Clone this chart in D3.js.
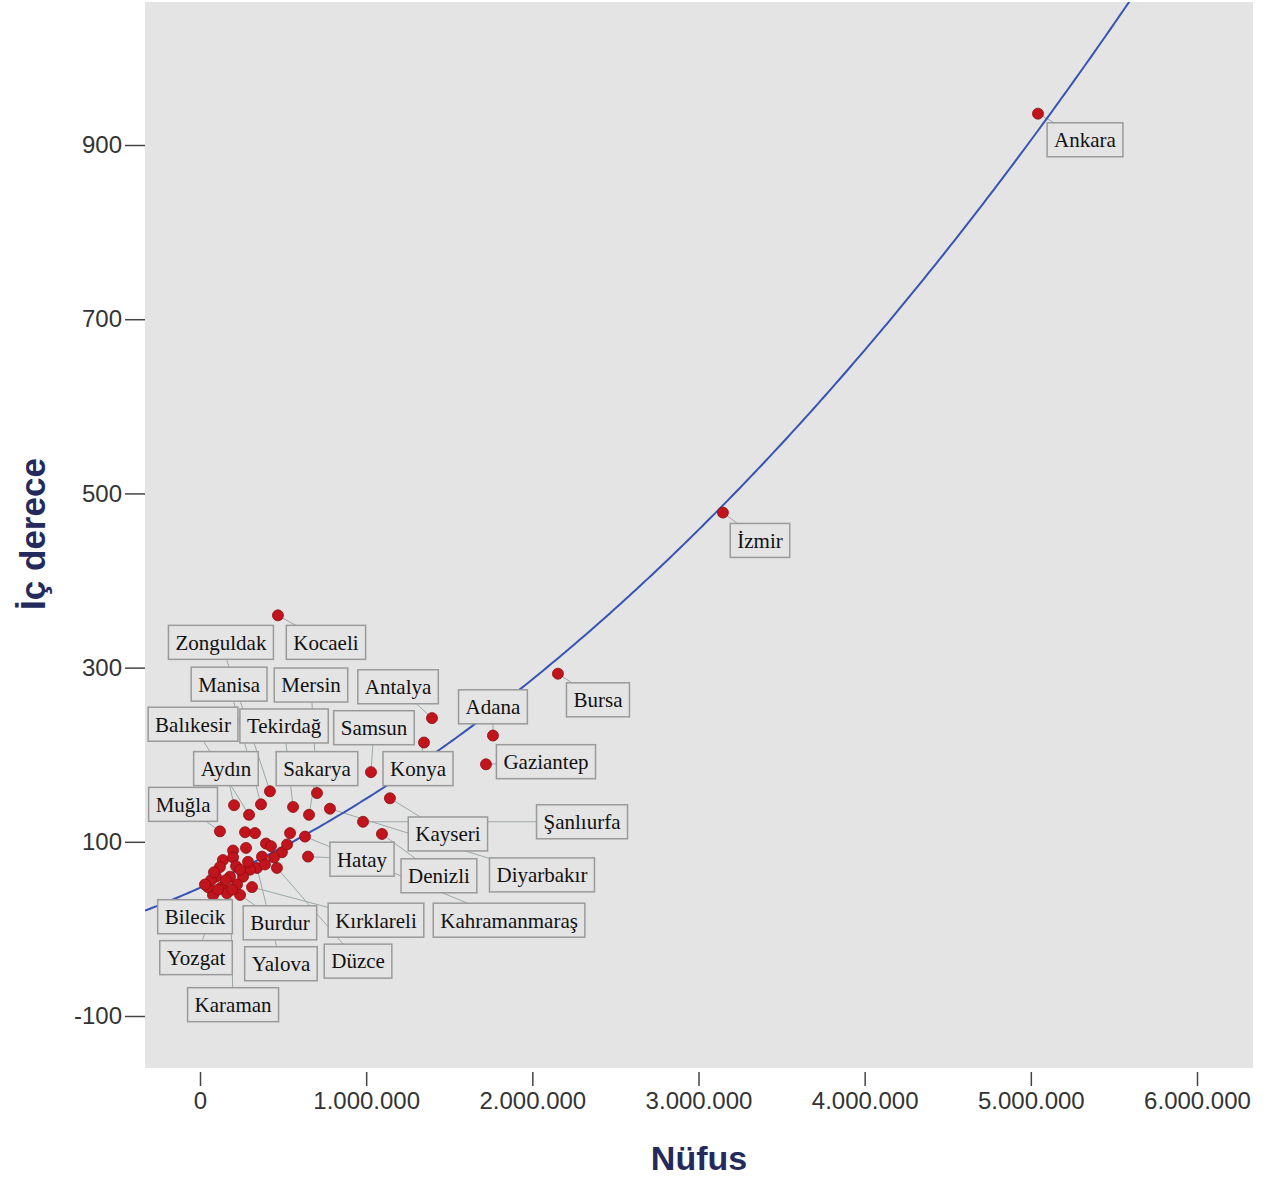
<!DOCTYPE html>
<html><head><meta charset="utf-8">
<script src="https://cdn.jsdelivr.net/npm/d3@7"></script>
<style>body{margin:0;background:#fff} svg{display:block}</style>
</head><body><svg id="c" width="1265" height="1178"></svg>
<script>
// ---- data ----
const iller = ["Ankara","İzmir","Bursa","Adana","Gaziantep","Antalya","Konya","Samsun","Kayseri","Şanlıurfa",
 "Denizli","Kocaeli","Diyarbakır","Hatay","Kahramanmaraş","Zonguldak","Mersin","Manisa","Tekirdağ","Balıkesir",
 "Aydın","Sakarya","Muğla","Kırklareli","Burdur","Bilecik","Yozgat","Yalova","Düzce","Karaman",
 "","","","","","","","","","","","","","","","","","","","","","","","","","","","","",""];
const nufus = [5043000,3147000,2154000,1763000,1721000,1396000,1348000,1029000,1143000,981000,
 1095000,469000,782000,650000,632000,421000,704000,367000,560000,295000,
 205000,656000,120000,313000,241000,78000,132000,343000,463000,181000,
 271000,331000,542000,397000,427000,199000,277000,493000,445000,138000,199000,120000,301000,96000,259000,223000,162000,48000,66000,217000,373000,524000,
 84000,156000,241000,289000,193000,30000,391000,108000];
const icDerece = [936,478,293,222,189,242,214,180,150,123,
 109,360,138,83,106,158,156,143,140,131,
 142,131,112,48,39,39,48,70,70,60,
 111,110,110,98,95,90,93,88,82,79,82,71,68,60,60,51,41,48,56,72,83,97,
 65,56,68,77,45,51,74,45];
// label box centres (data units)
const etiketIller = ["Ankara","İzmir","Bursa","Adana","Gaziantep","Antalya","Samsun","Konya","Kocaeli","Zonguldak",
 "Manisa","Mersin","Balıkesir","Tekirdağ","Aydın","Sakarya","Muğla","Kayseri","Şanlıurfa","Hatay",
 "Denizli","Diyarbakır","Bilecik","Burdur","Kırklareli","Kahramanmaraş","Yozgat","Yalova","Düzce","Karaman"];
const etiketX = [5326000,3370000,2395000,1763000,2082000,1192000,1047000,1312000,758000,126000,
 175000,668000,-42000,506000,156000,704000,-102000,1492000,2299000,975000,
 1438000,2058000,-30000,481000,1059000,1860000,-24000,487000,951000,199000];
const etiketY = [906,446,263,255,192,278,231,184,329,329,
 281,280,235,233,184,184,143,109,123,80,
 61,62,14,7,10,10,-33,-40,-37,-87];
const xTicks = [0,1000000,2000000,3000000,4000000,5000000,6000000];
const yTicks = [-100,100,300,500,700,900];
const fitKatsayi = [47.2, 85.0, 17.33]; // quadratic fit, x in millions

// ---- chart ----
const svg = d3.select("#c");
const P = {l:145, r:1253, t:2, b:1068};
const x = d3.scaleLinear().domain([-331000, 6337000]).range([P.l, P.r]);
const y = d3.scaleLinear().domain([-159.7, 1064.2]).range([P.b, P.t]);
const loc = d3.formatLocale({decimal:",", thousands:".", grouping:[3], currency:["",""]});
const fmt = loc.format(",d");

svg.append("rect").attr("x",P.l).attr("y",P.t).attr("width",P.r-P.l).attr("height",P.b-P.t).attr("fill","#e4e4e4");
svg.append("clipPath").attr("id","clip").append("rect").attr("x",P.l).attr("y",P.t).attr("width",P.r-P.l).attr("height",P.b-P.t);

// axes
const ya = svg.append("g").attr("transform",`translate(${P.l},0)`)
  .call(d3.axisLeft(y).tickValues(yTicks).tickSize(20).tickPadding(3).tickFormat(d=>d));
const xa = svg.append("g").attr("transform",`translate(0,${P.b+4})`)
  .call(d3.axisBottom(x).tickValues(xTicks).tickSize(14).tickPadding(6).tickFormat(fmt));
[ya,xa].forEach(g=>{
  g.select(".domain").remove();
  g.selectAll(".tick line").attr("stroke","#444").attr("stroke-width",1.5);
  g.selectAll(".tick text").attr("fill","#333").style("font-family","Liberation Sans, Arial").style("font-size","24px");
});

svg.append("text").attr("x",699).attr("y",1170).attr("text-anchor","middle")
  .style("font-family","Liberation Sans, Arial").style("font-weight","bold").style("font-size","34px")
  .attr("fill","#242b5c").text("Nüfus");
svg.append("text").attr("transform","translate(45,534) rotate(-90)").attr("text-anchor","middle")
  .style("font-family","Liberation Sans, Arial").style("font-weight","bold").style("font-size","35px")
  .attr("fill","#242b5c").text("İç derece");

const plot = svg.append("g").attr("clip-path","url(#clip)");

// fit curve
const xs = d3.range(0, 301).map(i => x.domain()[0] + (x.domain()[1]-x.domain()[0])*i/300);
const fit = xs.map(v => { const m=v/1e6; return [v, fitKatsayi[0]+fitKatsayi[1]*m+fitKatsayi[2]*m*m]; });

// leader lines
const idx = Object.fromEntries(iller.map((n,i)=>[n,i]));
plot.selectAll("line.lead").data(etiketIller).enter().append("line").attr("class","lead")
  .attr("x1",(d,i)=>x(etiketX[i])).attr("y1",(d,i)=>y(etiketY[i]))
  .attr("x2",d=>x(nufus[idx[d]])).attr("y2",d=>y(icDerece[idx[d]]))
  .attr("stroke","#9aa8a8").attr("stroke-width",1);

plot.append("path").datum(fit).attr("fill","none").attr("stroke","#3554b5").attr("stroke-width",2)
  .attr("d", d3.line().x(d=>x(d[0])).y(d=>y(d[1])));

// points
plot.selectAll("circle").data(nufus).enter().append("circle")
  .attr("cx",d=>x(d)).attr("cy",(d,i)=>y(icDerece[i])).attr("r",5.5)
  .attr("fill","#c2141c").attr("stroke","#8c0d12").attr("stroke-width",0.8);

// labels
const lg = plot.selectAll("g.lab").data(etiketIller).enter().append("g").attr("class","lab")
  .attr("transform",(d,i)=>`translate(${x(etiketX[i])},${y(etiketY[i])})`);
const rects = lg.append("rect").attr("fill","#e4e4e4").attr("stroke","#9a9a9a").attr("stroke-width",1.5);
const texts = lg.append("text").attr("text-anchor","middle").attr("dy","0.35em")
  .style("font-family","Liberation Serif, Times New Roman, serif").style("font-size","21px")
  .attr("fill","#111").text(d=>d);
texts.each(function(){
  const w = this.getComputedTextLength() + 14;
  d3.select(this.parentNode).select("rect").attr("x",-w/2).attr("y",-17).attr("width",w).attr("height",34);
});
</script></body></html>
